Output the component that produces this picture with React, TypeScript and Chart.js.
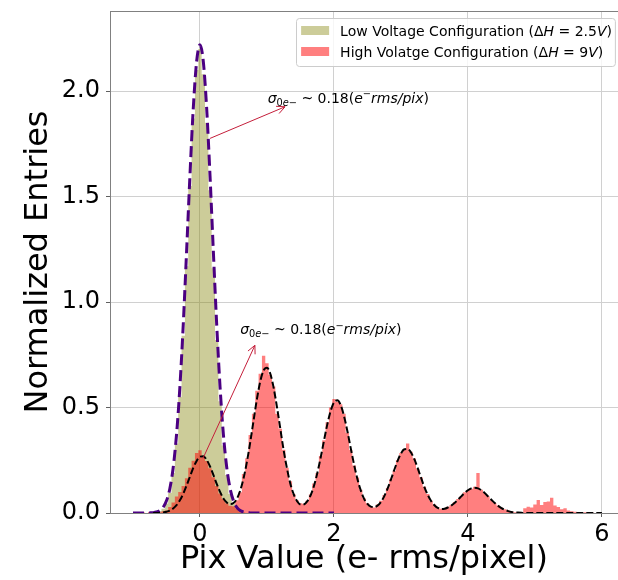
import React, { useEffect, useRef } from "react";
import { Chart, registerables } from "chart.js";

Chart.register(...registerables);

const FONT = "'DejaVu Sans', 'Liberation Sans', sans-serif";

// ---- data ----
const BIN_WIDTH = 0.05;

const lowHistStart = -0.7;
const lowHistValues = [
  0, 0.004, 0.008, 0.02, 0.045, 0.095, 0.19, 0.33, 0.55, 0.84, 1.17, 1.55, 1.87, 2.1,
  2.2,
  2.08, 1.85, 1.53, 1.16, 0.82, 0.53, 0.32, 0.18, 0.09, 0.045, 0.02, 0.008, 0.004, 0,
];

const highHistStart = -1.0;
const highHistValues = [
  0, 0.004, 0, 0.003, 0, 0.005, 0.003, 0.006, 0.004, 0.008, // -1.00 .. -0.55
  0.012, 0.028, 0.05, 0.078, 0.1, 0.128, 0.165, 0.215, 0.248, 0.285, // -0.50 .. -0.05
  0.298, 0.272, 0.246, 0.212, 0.17, 0.128, 0.092, 0.066, 0.046, 0.034, // 0.00 .. 0.45
  0.032, 0.06, 0.098, 0.185, 0.26, 0.37, 0.47, 0.58, 0.66, 0.745, // 0.50 .. 0.95
  0.71, 0.655, 0.6, 0.47, 0.4, 0.3, 0.215, 0.15, 0.09, 0.06, // 1.00 .. 1.45
  0.046, 0.044, 0.058, 0.088, 0.14, 0.19, 0.27, 0.345, 0.43, 0.5, // 1.50 .. 1.95
  0.54, 0.528, 0.515, 0.47, 0.38, 0.3, 0.225, 0.168, 0.11, 0.07, // 2.00 .. 2.45
  0.046, 0.03, 0.026, 0.04, 0.058, 0.085, 0.118, 0.16, 0.2, 0.25, // 2.50 .. 2.95
  0.285, 0.3, 0.33, 0.29, 0.258, 0.21, 0.17, 0.125, 0.09, 0.058, // 3.00 .. 3.45
  0.04, 0.026, 0.02, 0.022, 0.03, 0.038, 0.052, 0.066, 0.08, 0.098, // 3.50 .. 3.95
  0.108, 0.115, 0.125, 0.19, 0.11, 0.095, 0.08, 0.062, 0.048, 0.036, // 4.00 .. 4.45
  0.025, 0.018, 0.012, 0.008, 0.004, 0.002, 0, 0.022, 0.03, 0.026, // 4.50 .. 4.95
  0.04, 0.062, 0.038, 0.052, 0.055, 0.072, 0.035, 0.028, 0.018, 0.022, // 5.00 .. 5.45
  0.012, 0.008, 0.006, 0.003, 0, 0.003, 0, 0.002, 0, 0, // 5.50 .. 5.95
];

const lowFitStart = -1.0;
const lowFitValues = [
  0, 0, 0, 0, 0, // -1.00 .. -0.80
  0.0006, 0.0017, 0.0046, 0.0115, 0.0267, 0.0576, 0.1153, 0.2145, 0.371, 0.596,
  0.891, 1.238, 1.598, 1.918, 2.14, // -0.75 .. -0.05
  2.22, // 0
  2.14, 1.918, 1.598, 1.238, 0.891, 0.596, 0.371, 0.2145, 0.1153, 0.0576,
  0.0267, 0.0115, 0.0046, 0.0017, 0.0006, // 0.05 .. 0.75
  0, 0, 0, 0, 0, 0, 0, 0, 0, 0, 0, 0, 0, 0, 0, 0, 0, 0, 0, 0, 0, 0, 0, 0, 0, // 0.80 .. 2.00
];

const highFitStart = -0.7;
const highFitValues = [
  0, 0, 0.001, 0.003, 0.006, 0.011, 0.021, 0.037, 0.06, 0.091, // -0.70 .. -0.25
  0.13, 0.172, 0.214, 0.247, 0.267, 0.269, 0.252, 0.221, 0.181, 0.138, // -0.20 .. 0.25
  0.1, 0.069, 0.05, 0.042, 0.047, 0.067, 0.106, 0.164, 0.241, 0.335, // 0.30 .. 0.75
  0.438, 0.54, 0.624, 0.676, 0.689, 0.66, 0.593, 0.501, 0.398, 0.296, // 0.80 .. 1.25
  0.209, 0.138, 0.088, 0.056, 0.041, 0.041, 0.055, 0.083, 0.127, 0.187, // 1.30 .. 1.75
  0.26, 0.341, 0.419, 0.483, 0.524, 0.534, 0.512, 0.46, 0.389, 0.308, // 1.80 .. 2.25
  0.23, 0.161, 0.107, 0.067, 0.043, 0.03, 0.028, 0.035, 0.052, 0.079, // 2.30 .. 2.75
  0.115, 0.158, 0.204, 0.247, 0.282, 0.302, 0.304, 0.287, 0.255, 0.213, // 2.80 .. 3.25
  0.167, 0.123, 0.086, 0.057, 0.037, 0.024, 0.019, 0.02, 0.026, 0.035, // 3.30 .. 3.75
  0.047, 0.063, 0.079, 0.095, 0.108, 0.117, 0.12, 0.117, 0.108, 0.095, // 3.80 .. 4.25
  0.079, 0.063, 0.047, 0.034, 0.023, 0.015, 0.009, 0.005, 0.003, 0.002, // 4.30 .. 4.75
  0.001, 0, 0, 0, 0, 0, 0, 0, 0, 0, // 4.80 .. 5.25
  0, 0, 0, 0, 0, 0, 0, 0, 0, 0, 0, 0, 0, 0, 0, // 5.30 .. 6.00
];

const xTicks = [0, 2, 4, 6];
const yTicks = [0, 0.5, 1.0, 1.5, 2.0];
const xMin = -1.343;
const xMax = 6.24;
const yMin = 0;
const yMax = 2.38;

const xTitle = "Pix Value (e- rms/pixel)";
const yTitle = "Normalized Entries";

// legend labels as runs: [text, italic]
const lowLabel: [string, boolean][] = [
  ["Low Voltage Configuration (Δ", false],
  ["H", true],
  [" = 2.5", false],
  ["V", true],
  [")", false],
];
const highLabel: [string, boolean][] = [
  ["High Volatge Configuration (Δ", false],
  ["H", true],
  [" = 9", false],
  ["V", true],
  [")", false],
];

// annotations (data coordinates)
const annotTextX = [1.01, 0.6];
const annotTextY = [1.945, 0.848];
const arrowTailX = [0.15, 0.045];
const arrowTailY = [1.776, 0.259];
const arrowHeadX = [1.27, 0.82];
const arrowHeadY = [1.926, 0.795];

const LOW_FILL = "rgba(128,128,0,0.4)";
const HIGH_FILL = "rgba(255,0,0,0.5)";
const ARROW_COLOR = "#c41e3a";

function toPoints(start: number, values: number[]) {
  return values.map((v, i) => ({ x: Math.round((start + i * BIN_WIDTH) * 1000) / 1000, y: v }));
}

type Run = { t: string; it?: boolean; sub?: boolean; sup?: boolean };
const annotRuns: Run[] = [
  { t: "σ", it: true },
  { t: "0", sub: true },
  { t: "e", it: true, sub: true },
  { t: "−", sub: true },
  { t: " ~ 0.18(" },
  { t: "e", it: true },
  { t: "−", sup: true },
  { t: "rms/pix", it: true },
  { t: ")" },
];

function drawRuns(ctx: CanvasRenderingContext2D, x: number, y: number, runs: Run[], size: number) {
  let cx = x;
  for (const r of runs) {
    const s = r.sub || r.sup ? size * 0.7 : size;
    ctx.font = `${r.it ? "italic " : ""}${s}px ${FONT}`;
    const dy = r.sub ? size * 0.22 : r.sup ? -size * 0.38 : 0;
    ctx.fillText(r.t, cx, y + dy);
    cx += ctx.measureText(r.t).width;
  }
}

function labelRuns(parts: [string, boolean][]): Run[] {
  return parts.map(([t, it]) => ({ t, it }));
}

function runsWidth(ctx: CanvasRenderingContext2D, runs: Run[], size: number) {
  let w = 0;
  for (const r of runs) {
    const s = r.sub || r.sup ? size * 0.7 : size;
    ctx.font = `${r.it ? "italic " : ""}${s}px ${FONT}`;
    w += ctx.measureText(r.t).width;
  }
  return w;
}

const overlayPlugin = {
  id: "overlay",
  afterDatasetsDraw(chart: any) {
    const { ctx, chartArea, scales } = chart;
    const xs = scales.x;
    const ys = scales.y;
    ctx.save();
    // top spine
    ctx.strokeStyle = "#808080";
    ctx.lineWidth = 1;
    ctx.beginPath();
    ctx.moveTo(chartArea.left, chartArea.top + 0.5);
    ctx.lineTo(chartArea.right, chartArea.top + 0.5);
    ctx.stroke();

    // arrows
    for (let i = 0; i < annotTextX.length; i++) {
      const x0 = xs.getPixelForValue(arrowTailX[i]);
      const y0 = ys.getPixelForValue(arrowTailY[i]);
      const x1 = xs.getPixelForValue(arrowHeadX[i]);
      const y1 = ys.getPixelForValue(arrowHeadY[i]);
      ctx.strokeStyle = ARROW_COLOR;
      ctx.lineWidth = 1;
      ctx.beginPath();
      ctx.moveTo(x0, y0);
      ctx.lineTo(x1, y1);
      const ang = Math.atan2(y1 - y0, x1 - x0);
      const L = 9;
      const a = 0.45;
      ctx.moveTo(x1 - L * Math.cos(ang - a), y1 - L * Math.sin(ang - a));
      ctx.lineTo(x1, y1);
      ctx.lineTo(x1 - L * Math.cos(ang + a), y1 - L * Math.sin(ang + a));
      ctx.stroke();

      ctx.fillStyle = "#000";
      ctx.textBaseline = "alphabetic";
      ctx.textAlign = "left";
      drawRuns(ctx, xs.getPixelForValue(annotTextX[i]), ys.getPixelForValue(annotTextY[i]), annotRuns, 14);
    }
    ctx.restore();
  },
  afterDraw(chart: any) {
    const { ctx, chartArea } = chart;
    ctx.save();
    const size = 14;
    const items = [
      { color: LOW_FILL, runs: labelRuns(lowLabel) },
      { color: HIGH_FILL, runs: labelRuns(highLabel) },
    ];
    const textW = Math.max(...items.map((it) => runsWidth(ctx, it.runs, size)));
    const right = chartArea.right - 3;
    const top = chartArea.top + 7;
    const width = 44 + textW + 3;
    const left = right - width;
    const height = 48;
    // box
    ctx.fillStyle = "rgba(255,255,255,0.8)";
    ctx.strokeStyle = "#cccccc";
    ctx.lineWidth = 1;
    ctx.beginPath();
    const r = 3;
    const bx = Math.round(left) + 0.5;
    const by = Math.round(top) + 0.5;
    ctx.moveTo(bx + r, by);
    ctx.lineTo(bx + width - r, by);
    ctx.arcTo(bx + width, by, bx + width, by + r, r);
    ctx.lineTo(bx + width, by + height - r);
    ctx.arcTo(bx + width, by + height, bx + width - r, by + height, r);
    ctx.lineTo(bx + r, by + height);
    ctx.arcTo(bx, by + height, bx, by + height - r, r);
    ctx.lineTo(bx, by + r);
    ctx.arcTo(bx, by, bx + r, by, r);
    ctx.closePath();
    ctx.fill();
    ctx.stroke();

    items.forEach((it, i) => {
      const cy = top + 12.5 + i * 21;
      ctx.fillStyle = it.color;
      ctx.fillRect(left + 5, cy - 4.5, 28, 9);
      ctx.fillStyle = "#000";
      ctx.textBaseline = "alphabetic";
      ctx.textAlign = "left";
      drawRuns(ctx, left + 44, cy + 5, it.runs, size);
    });
    ctx.restore();
  },
};

export default function App() {
  const canvasRef = useRef<HTMLCanvasElement | null>(null);

  useEffect(() => {
    document.body.style.margin = "0";
    document.body.style.overflow = "hidden";
    const canvas = canvasRef.current;
    if (!canvas) return;

    const chart = new Chart(canvas, {
      type: "line",
      data: {
        datasets: [
          {
            label: lowLabel.map((p) => p[0]).join(""),
            data: toPoints(lowHistStart, lowHistValues),
            stepped: "middle",
            fill: "origin",
            backgroundColor: LOW_FILL,
            borderColor: "transparent",
            borderWidth: 0,
            pointRadius: 0,
            order: 4,
          },
          {
            label: highLabel.map((p) => p[0]).join(""),
            data: toPoints(highHistStart, highHistValues),
            stepped: "middle",
            fill: "origin",
            backgroundColor: HIGH_FILL,
            borderColor: "transparent",
            borderWidth: 0,
            pointRadius: 0,
            order: 3,
          },
          {
            label: "Low voltage fit",
            data: toPoints(lowFitStart, lowFitValues),
            fill: false,
            borderColor: "#4b0082",
            borderWidth: 3,
            borderDash: [11, 5],
            pointRadius: 0,
            cubicInterpolationMode: "monotone",
            order: 2,
          },
          {
            label: "High voltage fit",
            data: toPoints(highFitStart, highFitValues),
            fill: false,
            borderColor: "#000000",
            borderWidth: 2,
            borderDash: [7, 3],
            pointRadius: 0,
            cubicInterpolationMode: "monotone",
            order: 1,
          },
        ],
      } as any,
      options: {
        animation: false,
        responsive: false,
        maintainAspectRatio: false,
        events: [],
        layout: { padding: { top: 11, right: 0, left: 0, bottom: 0 } },
        plugins: {
          legend: { display: false },
          tooltip: { enabled: false },
        },
        scales: {
          x: {
            type: "linear",
            min: xMin,
            max: xMax,
            afterBuildTicks: (s: any) => {
              s.ticks = xTicks.map((v) => ({ value: v }));
            },
            afterFit: (s: any) => {
              s.height = 67;
              s.paddingLeft = 0;
              s.paddingRight = 0;
            },
            grid: {
              color: "#d0d0d0",
              lineWidth: 1,
              tickLength: 4,
              tickColor: "#606060",
            },
            border: { color: "#808080", width: 1 },
            ticks: {
              font: { family: FONT, size: 24 },
              color: "#000",
              padding: 3,
              maxRotation: 0,
              autoSkip: false,
              callback: (v: any) => String(v),
            },
            title: {
              display: true,
              text: xTitle,
              font: { family: FONT, size: 32 },
              color: "#000",
              padding: { top: 0, bottom: 1 },
            },
          },
          y: {
            type: "linear",
            min: yMin,
            max: yMax,
            afterBuildTicks: (s: any) => {
              s.ticks = yTicks.map((v) => ({ value: v }));
            },
            afterFit: (s: any) => {
              s.width = 110;
              s.paddingTop = 0;
              s.paddingBottom = 0;
            },
            grid: {
              color: "#d0d0d0",
              lineWidth: 1,
              tickLength: 4,
              tickColor: "#606060",
            },
            border: { color: "#808080", width: 1 },
            ticks: {
              font: { family: FONT, size: 24 },
              color: "#000",
              padding: 6,
              autoSkip: false,
              callback: (v: any) => Number(v).toFixed(1),
            },
            title: {
              display: true,
              text: yTitle,
              font: { family: FONT, size: 32 },
              color: "#000",
              padding: { top: 19, bottom: 0 },
            },
          },
        },
      } as any,
      plugins: [overlayPlugin],
    });

    return () => {
      chart.destroy();
    };
  }, []);

  return (
    <div style={{ width: 618, height: 580, position: "relative" }}>
      <canvas ref={canvasRef} width={618} height={580} style={{ display: "block" }} />
    </div>
  );
}
